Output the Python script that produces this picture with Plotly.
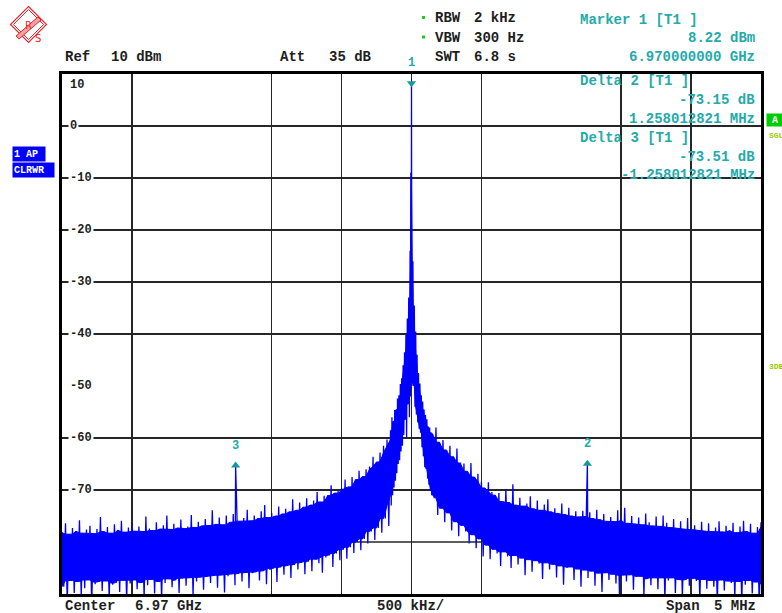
import plotly.graph_objects as go

# ------------------------------------------------------------------ data
center_freq_ghz = 6.97
span_mhz = 5
div_khz = 500
ref_level_dbm = 10
att_db = 35
rbw_khz = 2
vbw_hz = 300
swt_s = 6.8
sweep_step_khz = 25

# outer left part of trace: offsets -2500 ... -150 kHz (25 kHz steps)
left_start_khz = -2500
left_hi = [-78.2, -76.4, -78.5, -77.3, -77.9, -75.8, -78.3, -77.6, -76.9, -78.4, -77.5, -75.2,
           -78.0, -77.1, -78.3, -76.6, -77.7, -75.9, -78.1, -77.2, -76.3, -77.9, -77.0, -78.0,
           -75.1, -77.4, -77.8, -76.2, -77.5, -76.8, -74.9, -77.6, -76.5, -77.3, -75.7, -77.4,
           -77.0, -74.8, -77.2, -76.1, -76.9, -75.6, -76.8, -73.9, -76.6, -75.3, -76.7, -74.9,
           -76.2, -74.6, -75.0, -76.0, -75.4, -73.8, -75.9, -74.9, -75.5, -74.1, -72.9, -75.3,
           -74.4, -75.0, -73.2, -74.6, -73.6, -74.2, -71.8, -73.9, -72.4, -73.3, -71.6, -72.9,
           -72.0, -70.4, -72.3, -71.1, -71.0, -69.1, -70.6, -70.1, -69.6, -68.0, -69.4, -67.5,
           -68.0, -66.3, -67.4, -66.0, -65.5, -63.6, -64.6, -62.8, -61.5, -60.3, -58.5]
left_lo = [-88.6, -91.5, -87.4, -89.8, -87.6, -90.2, -88.9, -87.3, -92.0, -88.1, -87.7, -89.4,
           -87.5, -90.8, -88.2, -87.9, -89.6, -87.4, -91.3, -88.0, -87.3, -89.1, -87.8, -90.6,
           -88.3, -87.2, -89.9, -87.6, -91.0, -87.9, -87.1, -88.7, -87.4, -89.8, -87.0, -88.4,
           -86.9, -90.3, -87.6, -86.8, -89.2, -86.7, -87.9, -86.5, -88.8, -86.4, -89.7, -86.6,
           -86.2, -88.3, -86.1, -87.6, -85.9, -88.9, -86.0, -85.8, -87.4, -85.6, -88.1, -85.4,
           -85.1, -87.7, -84.9, -86.3, -84.6, -86.9, -84.4, -85.3, -84.0, -86.2, -83.8, -85.6,
           -83.3, -84.1, -85.9, -83.0, -82.6, -84.8, -82.2, -83.5, -81.5, -83.2, -81.0, -82.1,
           -80.0, -81.6, -79.4, -80.3, -78.0, -79.6, -77.3, -78.2, -75.5, -76.9, -73.0]

# carrier region, finer sampling
center_offsets_khz = [-140, -130, -120, -110, -100, -90, -80, -70, -60, -50, -40, -30, -20, -10,
                      -5, 0, 5,
                      10, 20, 30, 40, 50, 60, 70, 80, 90, 100, 110, 120, 130, 140]
center_hi = [-56.0, -56.8, -54.6, -54.5, -52.4, -51.8, -49.6, -48.5, -46.0, -43.5, -40.2, -37.0, -33.0, -24.0,
             -9.0, 8.22, -12.0,
             -26.0, -34.5, -39.5, -44.0, -47.5, -49.5, -51.8, -53.0, -54.5, -55.6, -56.4, -57.8, -58.0, -58.9]
center_lo = [-71.0, -69.5, -68.2, -66.8, -65.0, -64.3, -62.6, -61.5, -59.4, -56.5, -59.8, -53.5, -56.0, -52.0,
             -50.5, -50.0, -49.0,
             -50.0, -54.0, -55.5, -57.0, -58.2, -59.0, -61.8, -63.5, -65.6, -66.0, -67.8, -69.0, -70.2, -71.0]

# outer right part of trace: offsets 150 ... 2500 kHz (25 kHz steps)
right_start_khz = 150
right_hi = [-59.2, -58.0, -60.8,
            -60.4, -62.3, -61.5, -63.6, -62.0, -64.7, -64.9, -66.4, -64.8, -67.5, -66.9, -68.4,
            -69.6, -68.5, -70.4, -71.0, -70.6, -72.2, -69.8, -72.4, -68.9, -72.9, -71.5, -73.1,
            -72.6, -71.2, -73.6, -72.0, -73.9, -72.8, -71.8, -74.2, -73.5, -74.5, -72.6, -74.7,
            -73.4, -75.0, -74.1, -75.2, -74.0, -75.1, -74.3, -75.5, -73.8, -75.7, -74.6, -76.0,
            -75.2, -76.1, -73.9, -75.8, -73.4, -76.4, -75.0, -76.5, -75.3, -76.7, -74.5, -76.2,
            -76.9, -75.1, -77.0, -74.9, -76.3, -77.2, -75.6, -77.3, -76.0, -77.5, -75.4, -77.6,
            -76.8, -77.7, -76.1, -77.9, -76.4, -78.0, -77.2, -76.0, -78.1, -76.9, -77.8, -76.3,
            -78.2, -77.0, -75.9, -78.0, -76.5, -78.3, -77.1, -76.2]
right_lo = [-71.6, -74.8, -73.5,
            -76.2, -74.4, -77.8, -76.1, -78.9, -76.8, -78.0, -80.3, -78.6, -81.2, -79.4, -82.8,
            -80.6, -83.3, -81.4, -82.2, -84.6, -81.9, -82.8, -85.0, -82.6, -84.3, -83.1, -86.4,
            -83.4, -85.7, -83.6, -84.2, -87.1, -84.0, -85.3, -84.3, -86.8, -84.6, -88.2, -85.0,
            -84.8, -87.3, -85.2, -88.6, -85.4, -86.9, -85.6, -88.4, -86.0, -89.6, -85.9, -87.3,
            -86.2, -88.0, -90.1, -86.4, -87.6, -86.3, -89.2, -86.7, -86.6, -90.4, -87.1, -88.3,
            -86.9, -89.1, -86.8, -91.2, -87.4, -86.9, -89.8, -87.2, -90.6, -87.3, -88.4, -87.0,
            -87.5, -91.4, -87.2, -89.0, -87.4, -88.6, -92.0, -87.3, -89.3, -87.5, -87.9, -90.7,
            -87.6, -91.8, -88.2, -87.4, -89.9, -87.7, -92.3, -88.1]

# markers
marker_names = ["1", "2", "3"]
marker_offsets_khz = [0.0, 1258.012821, -1258.012821]
marker1_level_dbm = 8.22
marker_delta_db = [0.0, -73.15, -73.51]

# axis
y_tick_values = [10, 0, -10, -20, -30, -40, -50, -60, -70]
y_tick_labels = ["10", "0", "-10", "-20", "-30", "-40", "-50", "-60", "-70"]
grid_x_khz = [-2000, -1000, -500, 0, 500, 1500, 2000]
grid_y_db = [0, -10, -20, -30, -40, -60, -70]
partial_grid_db = -80
partial_grid_span_khz = [-640, 500]

# ------------------------------------------------------------------ build trace
left_f = [left_start_khz + sweep_step_khz * i for i in range(len(left_hi))]
right_f = [right_start_khz + sweep_step_khz * i for i in range(len(right_hi))]
all_f = left_f + center_offsets_khz + right_f
all_hi = left_hi + center_hi + right_hi
all_lo = left_lo + center_lo + right_lo
n = len(all_f)

pts = []
for i in range(n):
    f = all_f[i]
    nxt = all_f[i + 1] if i + 1 < n else f + sweep_step_khz
    pts.append((f, all_hi[i]))
    pts.append(((f + nxt) / 2.0, all_lo[i]))
marker_levels = [marker1_level_dbm + d for d in marker_delta_db]
for k in (1, 2):
    pts.append((marker_offsets_khz[k], marker_levels[k]))
pts.sort(key=lambda p: p[0])

# solid core of the noise band (lowest local peak / highest local dip)
core_top = [min(all_hi[max(i - 1, 0):i + 2]) for i in range(n)]
core_bot = [max(all_lo[max(i - 1, 0):i + 2]) for i in range(n)]
core_x = all_f + all_f[::-1]
core_y = core_top + core_bot[::-1]

fig = go.Figure()
fig.add_trace(go.Scatter(x=core_x, y=core_y, mode="lines", fill="toself",
                         fillcolor="#0000ff", line=dict(color="#0000ff", width=1),
                         hoverinfo="skip", showlegend=False))
fig.add_trace(go.Scatter(x=[p[0] for p in pts], y=[p[1] for p in pts], mode="lines",
                         line=dict(color="#0000ff", width=1.3), hoverinfo="skip",
                         showlegend=False))
fig.add_trace(go.Scatter(x=marker_offsets_khz, y=marker_levels, mode="markers",
                         marker=dict(symbol=["triangle-down", "triangle-up", "triangle-up"],
                                     size=8, color="#139a9a"),
                         cliponaxis=False, showlegend=False, hoverinfo="skip"))

# ------------------------------------------------------------------ layout helpers
L, R, T, B = 62, 761, 74, 594
W, H = R - L, B - T


def px(x):
    return (x - L) / W


def py(y):
    return (B - y) / H


annotations = []
FONT = "Liberation Mono"
DARK = "#1e1e1e"
TEAL = "#25aaaa"


def txt(text, x, y, color=DARK, size=14, anchor="left", **kw):
    annotations.append(dict(text=text, x=px(x), y=py(y), xref="paper", yref="paper",
                            xanchor=anchor, yanchor="middle", showarrow=False,
                            font=dict(family=FONT, size=size, color=color, weight="bold"),
                            **kw))


# y tick labels inside plot
for v, lab in zip(y_tick_values, y_tick_labels):
    annotations.append(dict(text=lab, x=0, xref="paper", y=v, yref="y", xanchor="left",
                            yanchor="middle", xshift=6, yshift=(-11 if v == ref_level_dbm else 0),
                            showarrow=False, bgcolor="white", borderpad=1,
                            font=dict(family=FONT, size=12, color=DARK, weight="bold")))

# marker numbers
for name, f, lv in zip(marker_names, marker_offsets_khz, marker_levels):
    annotations.append(dict(text=name, x=f, y=lv, xref="x", yref="y", showarrow=False,
                            yshift=20, font=dict(family=FONT, size=12, color=TEAL, weight="bold")))

# header
txt("Ref", 63, 57.5)
txt(f"{ref_level_dbm} dBm", 109, 57.5)
txt("Att", 278, 57.5)
txt(f"{att_db} dB", 327, 57.5)
txt("RBW", 433, 18)
txt(f"{rbw_khz} kHz", 472, 18)
txt("VBW", 433, 37.5)
txt(f"{vbw_hz} Hz", 472, 37.5)
txt("SWT", 433, 57.5)
txt(f"{swt_s} s", 472, 57.5)

txt("Marker 1 [T1 ]", 578, 20, TEAL)
txt(f"{marker1_level_dbm:.2f} dBm", 757, 37.5, TEAL, anchor="right")
txt(f"{center_freq_ghz + marker_offsets_khz[0] / 1e6:.9f} GHz", 757, 57.5, TEAL, anchor="right")
txt("Delta 2 [T1 ]", 578, 81, TEAL)
txt(f"{marker_delta_db[1]:.2f} dB", 757, 99.5, TEAL, anchor="right")
txt(f"{marker_offsets_khz[1] / 1000:.9f} MHz", 757, 119, TEAL, anchor="right")
txt("Delta 3 [T1 ]", 578, 137.5, TEAL)
txt(f"{marker_delta_db[2]:.2f} dB", 757, 156.5, TEAL, anchor="right")
txt(f"{marker_offsets_khz[2] / 1000:.9f} MHz", 757, 175, TEAL, anchor="right")

# footer
txt("Center", 63, 606)
txt(f"{center_freq_ghz} GHz", 133, 606)
txt(f"{div_khz} kHz/", 375, 606)
txt("Span", 664, 606)
txt(f"{span_mhz} MHz", 712, 606)

# left side trace info boxes
annotations.append(dict(text="1 AP", x=px(12), y=py(153.5), xref="paper", yref="paper",
                        xanchor="left", yanchor="middle", showarrow=False, bgcolor="#0000ff",
                        width=30, height=12, align="left", borderpad=1,
                        font=dict(family=FONT, size=10, color="white", weight="bold")))
annotations.append(dict(text="CLRWR", x=px(12), y=py(170), xref="paper", yref="paper",
                        xanchor="left", yanchor="middle", showarrow=False, bgcolor="#0000ff",
                        width=39, height=12, align="left", borderpad=1,
                        font=dict(family=FONT, size=10, color="white", weight="bold")))
# right side status
annotations.append(dict(text="A", x=px(766), y=py(119.5), xref="paper", yref="paper",
                        xanchor="left", yanchor="middle", showarrow=False, bgcolor="#00cc00",
                        width=16, height=12, borderpad=0,
                        font=dict(family=FONT, size=10, color="white", weight="bold")))
txt("SGL", 767, 135, "#99cc00", size=8)
txt("3DB", 767, 366, "#99cc00", size=8)

# ------------------------------------------------------------------ shapes
shapes = []
shapes.append(dict(type="line", xref="x", yref="y", x0=partial_grid_span_khz[0],
                   x1=partial_grid_span_khz[1], y0=partial_grid_db, y1=partial_grid_db,
                   line=dict(color="#262626", width=1.5), layer="below"))
for yy in (17.5, 37):
    shapes.append(dict(type="rect", xref="paper", yref="paper", x0=px(422), x1=px(425),
                       y0=py(yy + 1.5), y1=py(yy - 1.5), fillcolor="#22cc22",
                       line=dict(width=0)))


def poly(points):
    return "M " + " L ".join(f"{px(a):.5f},{py(b):.5f}" for a, b in points) + " Z"


cx, cy, hr = 28.5, 24.5, 18.0
shapes.append(dict(type="path", xref="paper", yref="paper",
                   path=poly([(cx, cy - hr), (cx + hr, cy), (cx, cy + hr), (cx - hr, cy)]),
                   line=dict(color="#e8282c", width=1.2)))
hr2 = hr - 3
shapes.append(dict(type="path", xref="paper", yref="paper",
                   path=poly([(cx, cy - hr2), (cx + hr2, cy), (cx, cy + hr2), (cx - hr2, cy)]),
                   line=dict(color="#e8282c", width=1)))
shapes.append(dict(type="path", xref="paper", yref="paper",
                   path=poly([(38, 17), (41, 20), (19, 39), (16, 36)]),
                   fillcolor="#f4a0a0", line=dict(color="#e8282c", width=1)))
annotations.append(dict(text="R", x=px(23), y=py(18), xref="paper", yref="paper",
                        showarrow=False, font=dict(family="DejaVu Sans", size=10, color="#e8282c")))
annotations.append(dict(text="S", x=px(33), y=py(31), xref="paper", yref="paper",
                        showarrow=False, font=dict(family="DejaVu Sans", size=10, color="#e8282c")))

# ------------------------------------------------------------------ layout
axis_common = dict(showticklabels=False, ticks="", showgrid=True, gridcolor="#262626",
                   gridwidth=1.5, zeroline=False, showline=True, mirror=True,
                   linecolor="black", linewidth=3, fixedrange=True)
fig.update_layout(
    width=782, height=613,
    margin=dict(l=L, r=782 - R, t=T, b=613 - B, pad=0),
    paper_bgcolor="white", plot_bgcolor="white",
    xaxis=dict(range=[-span_mhz * 500, span_mhz * 500], tickvals=grid_x_khz, **axis_common),
    yaxis=dict(range=[-90, 10], tickvals=grid_y_db, **axis_common),
    annotations=annotations, shapes=shapes, showlegend=False,
)

fig.write_html("out.html",
               config={"displayModeBar": False, "staticPlot": True},
               post_script="document.body.style.margin='0';document.body.style.padding='0';"
                           "document.body.style.overflow='hidden';")
